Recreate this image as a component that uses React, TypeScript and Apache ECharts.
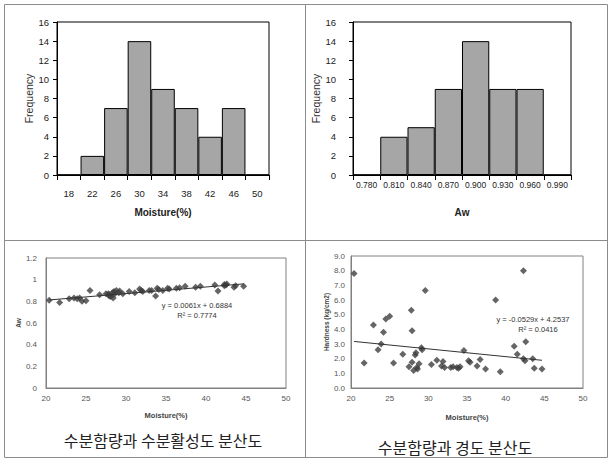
import React, { useEffect, useRef } from "react";
import * as echarts from "echarts";

// ---------- data ----------
const moistureBins = ["18", "22", "26", "30", "34", "38", "42", "46", "50"];
const moistureFreq = [0, 2, 7, 14, 9, 7, 4, 7, 0];

const awBins = ["0.780", "0.810", "0.840", "0.870", "0.900", "0.930", "0.960", "0.990"];
const awFreq = [0, 4, 5, 9, 14, 9, 9, 0];

const moisture = [
  20.4, 21.7, 22.9, 23.5, 23.9, 24.2, 24.5, 25.0, 25.5, 26.7,
  27.5, 27.8, 27.9, 27.9, 28.1, 28.3, 28.4, 28.5, 28.6, 28.8,
  29.1, 29.2, 29.6, 30.4, 31.1, 31.7, 31.9, 32.1, 32.9, 33.2,
  33.7, 33.9, 34.1, 34.6, 35.2, 35.4, 36.3, 36.7, 37.4, 38.7,
  39.3, 41.1, 41.5, 42.3, 42.3, 42.5, 42.6, 43.5, 43.7, 44.7,
];
const aw = [
  0.81, 0.79, 0.825, 0.83, 0.825, 0.83, 0.8, 0.805, 0.9, 0.86,
  0.87, 0.87, 0.85, 0.86, 0.845, 0.88, 0.83, 0.89, 0.87, 0.9,
  0.88, 0.895, 0.87, 0.89, 0.88, 0.915, 0.9, 0.89, 0.9, 0.9,
  0.85, 0.92, 0.91, 0.9, 0.92, 0.915, 0.92, 0.925, 0.94, 0.93,
  0.94, 0.95, 0.895, 0.945, 0.955, 0.95, 0.96, 0.93, 0.945, 0.94,
];
const hardness = [
  7.8, 1.7, 4.3, 2.6, 3.0, 3.8, 4.7, 4.9, 1.7, 2.3,
  1.45, 5.3, 3.9, 1.75, 1.2, 2.25, 2.4, 1.4, 1.3, 1.65,
  2.75, 2.6, 6.65, 1.6, 1.9, 1.5, 1.8, 1.4, 1.4, 1.45,
  1.4, 1.35, 1.45, 2.55, 1.85, 1.75, 1.5, 1.95, 1.3, 6.0,
  1.1, 2.85, 2.3, 8.0, 2.0, 1.85, 3.15, 2.0, 1.35, 1.3,
];

const awFit = { slope: 0.0061, intercept: 0.6884, r2: "0.7774" };
const hardFit = { slope: -0.0529, intercept: 4.2537, r2: "0.0416" };

const captions = ["수분함량과 수분활성도 분산도", "수분함량과 경도 분산도"];

// ---------- helpers ----------
const F = "'Liberation Sans', Arial, sans-serif";
const CJK = "'Noto Sans CJK KR', 'Noto Sans CJK SC', sans-serif";

const fitLine = (fit: { slope: number; intercept: number }) => {
  const x0 = Math.min(...moisture);
  const x1 = Math.max(...moisture);
  return [
    [x0, fit.slope * x0 + fit.intercept],
    [x1, fit.slope * x1 + fit.intercept],
  ];
};
const fmtEq = (fit: { slope: number; intercept: number }) =>
  `y = ${fit.slope}x + ${fit.intercept}`;

function histX(gridIndex: number, data: string[], name: string, margin: number, fs: number) {
  return {
    type: "category",
    gridIndex,
    data,
    boundaryGap: true,
    axisLine: { lineStyle: { color: "#000", width: 1 } },
    axisTick: { show: true, length: 5, lineStyle: { color: "#000" } },
    axisLabel: { margin, fontSize: fs, color: "#222", fontFamily: F, interval: 0 },
    name,
    nameLocation: "middle",
    nameGap: 32,
    nameTextStyle: { fontWeight: "bold", fontSize: 10, color: "#222", fontFamily: F },
  };
}
function histY(gridIndex: number, margin: number) {
  return {
    type: "value",
    gridIndex,
    min: 0,
    max: 16,
    interval: 2,
    axisLine: { show: true, lineStyle: { color: "#000", width: 1 } },
    axisTick: { show: true, length: 4, lineStyle: { color: "#000" } },
    splitLine: { show: false },
    axisLabel: { margin, fontSize: 9.5, color: "#222", fontFamily: F },
    name: "Frequency",
    nameLocation: "middle",
    nameGap: 21,
    nameTextStyle: { fontSize: 10.5, color: "#333", fontFamily: F },
  };
}
function scatX(gridIndex: number, nameGap: number) {
  return {
    type: "value",
    gridIndex,
    min: 20,
    max: 50,
    interval: 5,
    axisLine: { show: true, onZero: false, lineStyle: { color: "#808080" } },
    axisTick: { show: false },
    splitLine: { show: false },
    axisLabel: { margin: 6, fontSize: 8, color: "#555", fontFamily: F },
    name: "Moisture(%)",
    nameLocation: "middle",
    nameGap,
    nameTextStyle: { fontWeight: "bold", fontSize: 7.5, color: "#444", fontFamily: F },
  };
}

export default function App() {
  const ref = useRef<HTMLDivElement>(null);
  useEffect(() => {
    if (!ref.current) return;
    const chart = echarts.init(ref.current, undefined, { renderer: "svg" });
    const gridBase = { show: true, backgroundColor: "transparent", containLabel: false };
    const eqStyle = { font: `7.5px ${F}`, fill: "#333", textAlign: "center", textVerticalAlign: "middle" };
    chart.setOption({
      animation: false,
      backgroundColor: "#fff",
      grid: [
        { ...gridBase, left: 57, top: 22, width: 212, height: 153, borderColor: "#000", borderWidth: 1 },
        { ...gridBase, left: 353, top: 22, width: 218, height: 153, borderColor: "#000", borderWidth: 1 },
        { ...gridBase, left: 46, top: 258, width: 240, height: 130, borderColor: "#808080", borderWidth: 1 },
        { ...gridBase, left: 351, top: 256, width: 232, height: 132, borderColor: "#808080", borderWidth: 1 },
      ],
      xAxis: [
        histX(0, moistureBins, "Moisture(%)", 13, 9.5),
        histX(1, awBins, "Aw", 5, 8.5),
        scatX(2, 23),
        scatX(3, 25),
      ],
      yAxis: [
        histY(0, 8),
        histY(1, 17),
        {
          type: "value",
          gridIndex: 2,
          min: 0,
          max: 1.2,
          interval: 0.2,
          axisLine: { show: true, lineStyle: { color: "#808080" } },
          axisTick: { show: false },
          splitLine: { show: false },
          axisLabel: { margin: 9, fontSize: 8, color: "#555", fontFamily: F },
          name: "Aw",
          nameLocation: "middle",
          nameGap: 21,
          nameTextStyle: { fontWeight: "bold", fontSize: 6.5, color: "#444", fontFamily: F },
        },
        {
          type: "value",
          gridIndex: 3,
          min: 0,
          max: 9,
          interval: 1,
          axisLine: { show: true, lineStyle: { color: "#808080" } },
          axisTick: { show: false },
          splitLine: { show: false },
          axisLabel: {
            margin: 6,
            fontSize: 8,
            color: "#555",
            fontFamily: F,
            formatter: (v: number) => v.toFixed(1),
          },
          name: "Hardness (kg/cm2)",
          nameLocation: "middle",
          nameGap: 21,
          nameTextStyle: { fontWeight: "bold", fontSize: 6.5, color: "#444", fontFamily: F },
        },
      ],
      series: [
        {
          type: "bar",
          xAxisIndex: 0,
          yAxisIndex: 0,
          data: moistureFreq,
          barCategoryGap: "0%",
          itemStyle: { color: "#a6a6a6", borderColor: "#000", borderWidth: 1 },
        },
        {
          type: "bar",
          xAxisIndex: 1,
          yAxisIndex: 1,
          data: awFreq,
          barCategoryGap: "0%",
          itemStyle: { color: "#a6a6a6", borderColor: "#000", borderWidth: 1 },
        },
        {
          type: "scatter",
          xAxisIndex: 2,
          yAxisIndex: 2,
          symbol: "diamond",
          symbolSize: 7,
          itemStyle: { color: "#3f3f3f" },
          data: moisture.map((m, i) => [m, aw[i]]),
        },
        {
          type: "line",
          xAxisIndex: 2,
          yAxisIndex: 2,
          symbol: "none",
          lineStyle: { color: "#333", width: 1 },
          data: fitLine(awFit),
        },
        {
          type: "scatter",
          xAxisIndex: 3,
          yAxisIndex: 3,
          symbol: "diamond",
          symbolSize: 7,
          itemStyle: { color: "#3f3f3f" },
          data: moisture.map((m, i) => [m, hardness[i]]),
        },
        {
          type: "line",
          xAxisIndex: 3,
          yAxisIndex: 3,
          symbol: "none",
          lineStyle: { color: "#333", width: 1 },
          data: fitLine(hardFit),
        },
      ],
      graphic: [
        { type: "rect", shape: { x: 4.5, y: 4.5, width: 603, height: 453 }, style: { fill: "none", stroke: "#8c8c8c", lineWidth: 1 }, z: 0 },
        { type: "line", shape: { x1: 305.5, y1: 4.5, x2: 305.5, y2: 457.5 }, style: { stroke: "#8c8c8c", lineWidth: 1 } },
        { type: "line", shape: { x1: 4.5, y1: 240.5, x2: 607.5, y2: 240.5 }, style: { stroke: "#8c8c8c", lineWidth: 1 } },
        { type: "text", x: 197, y: 305, style: { ...eqStyle, text: fmtEq(awFit) } },
        { type: "text", x: 197, y: 315, style: { ...eqStyle, text: `R² = ${awFit.r2}` } },
        { type: "text", x: 533, y: 319, style: { ...eqStyle, text: fmtEq(hardFit) } },
        { type: "text", x: 538, y: 329, style: { ...eqStyle, text: `R² = ${hardFit.r2}` } },
        { type: "text", x: 163, y: 440, style: { text: captions[0], font: `16px ${CJK}`, fill: "#222", textAlign: "center", textVerticalAlign: "middle" } },
        { type: "text", x: 455, y: 447, style: { text: captions[1], font: `16px ${CJK}`, fill: "#222", textAlign: "center", textVerticalAlign: "middle" } },
      ],
    });
    return () => chart.dispose();
  }, []);
  return (
    <div
      ref={ref}
      style={{ position: "absolute", left: 0, top: 0, width: 615, height: 464 }}
    />
  );
}
